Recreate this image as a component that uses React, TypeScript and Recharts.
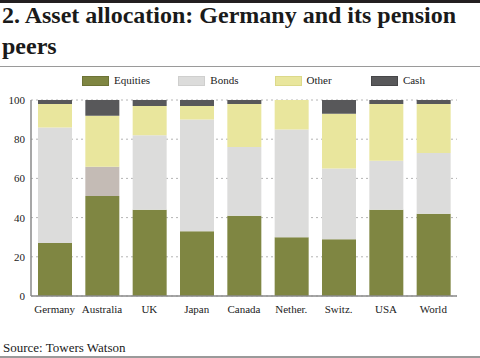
import React from 'react';
import { BarChart, Bar, XAxis, YAxis, CartesianGrid, Cell } from 'recharts';

const categories = ['Germany', 'Australia', 'UK', 'Japan', 'Canada', 'Nether.', 'Switz.', 'USA', 'World'];
const equities = [27, 51, 44, 33, 41, 30, 29, 44, 42];
const bonds = [59, 15, 38, 57, 35, 55, 36, 25, 31];
const other = [12, 26, 15, 7, 22, 15, 28, 29, 25];
const cash = [2, 8, 3, 3, 2, 0, 7, 2, 2];
const yTicks = [0, 20, 40, 60, 80, 100];
const seriesNames = ['Equities', 'Bonds', 'Other', 'Cash'];

const data = categories.map((c, i) => ({
  name: c,
  equities: equities[i],
  bonds: bonds[i],
  other: other[i],
  cash: cash[i],
}));

const COLORS = {
  equities: '#7f8642',
  bonds: '#dcdcdb',
  bondsHighlight: '#c4bbb5',
  other: '#e9e69d',
  cash: '#58585a',
};
const legendColors = [COLORS.equities, COLORS.bonds, COLORS.other, COLORS.cash];
const legendBorders = ['#6d7336', '#cfcfce', '#dcd98a', '#464648'];

const SERIF = '"Liberation Serif", "DejaVu Serif", serif';

export default function App() {
  return (
    <div style={{ position: 'absolute', left: 0, top: 0, width: 480, height: 358, background: '#fff', overflow: 'hidden', fontFamily: SERIF }}>
      <div style={{ position: 'absolute', left: 0, top: 0, width: 480, height: 2.5, background: '#231f20' }} />
      <div style={{ position: 'absolute', left: 2, top: 0, width: 478, fontSize: 24, lineHeight: '31px', fontWeight: 'bold', color: '#1a1a1a', whiteSpace: 'nowrap' }}>
        2. Asset allocation: Germany and its pension
        <br />
        peers
      </div>
      <div style={{ position: 'absolute', left: 0, top: 66, width: 480, height: 1, background: '#9a9a9a' }} />

      {seriesNames.map((n, i) => (
        <div key={n} style={{ position: 'absolute', left: 82 + i * 96.3, top: 75, height: 11, display: 'flex', alignItems: 'center' }}>
          <div style={{ width: 25, height: 8, background: legendColors[i], border: `1px solid ${legendBorders[i]}` }} />
          <span style={{ marginLeft: 5, fontSize: 11, color: '#222', lineHeight: '11px' }}>{n}</span>
        </div>
      ))}

      <div style={{ position: 'absolute', left: 0, top: 0 }}>
        <BarChart
          width={480}
          height={358}
          data={data}
          margin={{ top: 100, right: 23, bottom: 32, left: 0 }}
          barSize={34}
          style={{ fontFamily: SERIF }}
        >
          <CartesianGrid vertical={false} stroke="#b4b4b4" strokeDasharray="2 3" />
          <XAxis
            dataKey="name"
            height={30}
            tickLine={false}
            tickSize={0}
            tickMargin={9}
            axisLine={{ stroke: '#8a8a8a', strokeWidth: 1.5 }}
            tick={{ fontSize: 11, fill: '#222', fontFamily: SERIF }}
            interval={0}
          />
          <YAxis
            width={31}
            domain={[0, 100]}
            ticks={yTicks}
            tickLine={false}
            tickSize={0}
            tickMargin={6}
            axisLine={{ stroke: '#8a8a8a', strokeWidth: 1.5 }}
            tick={{ fontSize: 11, fill: '#222', fontFamily: SERIF }}
          />
          <Bar dataKey="equities" stackId="a" fill={COLORS.equities} isAnimationActive={false} />
          <Bar dataKey="bonds" stackId="a" fill={COLORS.bonds} isAnimationActive={false}>
            {data.map((d) => (
              <Cell key={d.name} fill={d.name === 'Australia' ? COLORS.bondsHighlight : COLORS.bonds} />
            ))}
          </Bar>
          <Bar dataKey="other" stackId="a" fill={COLORS.other} isAnimationActive={false} />
          <Bar dataKey="cash" stackId="a" fill={COLORS.cash} isAnimationActive={false} />
        </BarChart>
      </div>

      <div style={{ position: 'absolute', left: 3, top: 340, fontSize: 13, lineHeight: '15px', color: '#1a1a1a' }}>
        Source: Towers Watson
      </div>
      <div style={{ position: 'absolute', left: 0, top: 356, width: 480, height: 1.5, background: '#9a9a9a' }} />
    </div>
  );
}
